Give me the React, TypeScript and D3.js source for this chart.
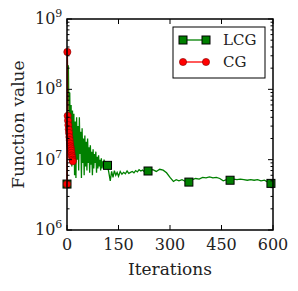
import React from 'react';
import * as d3 from 'd3';

// LCG run: iteration number and function value
const lcgIters = [
  0, 1, 2, 4, 6, 8, 10, 12, 14, 16, 18, 20, 22, 24, 26, 28, 30, 32, 34, 36, 38, 40,
  42, 44, 46, 48, 50, 52, 54, 56, 58, 60, 62, 64, 66, 68, 70, 72, 74, 76, 78, 80,
  82, 84, 86, 88, 90, 92, 94, 96, 98, 100, 102, 104, 106, 108, 110, 112, 114, 116, 118,
  122, 126, 130, 134, 138, 142, 146, 150, 155, 160, 165, 170, 175, 180, 185, 190, 195,
  200, 205, 210, 215, 220, 225, 230, 236, 240, 250, 260, 270, 280, 290, 300, 310, 318,
  326, 335, 345, 355, 365, 375, 385, 395, 405, 415, 425, 435, 445, 455, 465, 475, 485,
  495, 505, 515, 525, 535, 545, 555, 565, 575, 585, 594, 600,
];
const lcgValues = [
  4.5e6, 3.5e8, 1.0e8, 2.2e8, 3.0e7, 9.0e7, 1.2e7, 6.0e7, 8.0e6, 5.0e7, 1.5e7, 4.5e7,
  6.0e6, 3.5e7, 5.5e6, 4.0e7, 1.0e7, 3.0e7, 7.0e6, 4.0e7, 1.2e7, 2.5e7,
  5.5e6, 2.8e7, 9.0e6, 2.0e7, 6.0e6, 2.2e7, 8.0e6, 1.8e7, 7.0e6, 2.0e7, 9.0e6, 1.5e7,
  6.5e6, 1.6e7, 8.5e6, 1.3e7, 6.0e6, 1.4e7, 7.5e6, 1.2e7,
  9.0e6, 1.3e7, 6.5e6, 1.1e7, 7.5e6, 1.15e7, 8.0e6, 1.0e7, 7.0e6, 1.05e7, 7.5e6, 9.5e6,
  8.0e6, 1.0e7, 8.5e6, 9.0e6, 8.0e6, 8.5e6, 8.3e6,
  6.5e6, 5.0e6, 6.8e6, 5.6e6, 7.0e6, 6.0e6, 6.6e6, 5.8e6, 6.8e6, 6.2e6, 6.6e6, 6.3e6,
  6.9e6, 6.4e6, 6.6e6, 6.8e6, 6.5e6,
  7.0e6, 6.7e6, 7.2e6, 6.9e6, 7.1e6, 6.8e6, 7.0e6, 6.9e6, 7.0e6, 7.2e6, 6.8e6, 7.3e6,
  7.1e6, 6.5e6, 5.6e6, 4.9e6, 5.2e6,
  5.0e6, 5.2e6, 4.9e6, 4.8e6, 5.2e6, 5.4e6, 5.3e6, 5.6e6, 5.5e6, 5.7e6, 5.5e6, 5.6e6,
  5.4e6, 5.0e6, 5.2e6, 5.1e6, 5.3e6,
  5.2e6, 5.3e6, 5.2e6, 5.1e6, 5.2e6, 5.1e6, 5.2e6, 5.0e6, 5.1e6, 4.8e6, 4.6e6, 4.7e6,
];
const lcgMarkerIters = [0, 118, 236, 355, 475, 594];

// CG run
const cgIters = [0, 1, 2, 3, 4, 5, 6, 7, 8, 9, 10, 11, 12, 13, 14, 15, 16, 17];
const cgValues = [
  4.5e6, 3.4e8, 4.2e7, 3.6e7, 3.1e7, 2.7e7, 2.4e7, 2.1e7, 1.9e7, 1.7e7, 1.55e7,
  1.45e7, 1.35e7, 1.25e7, 1.15e7, 1.08e7, 1.0e7, 9.5e6,
];

const xTicks = [0, 150, 300, 450, 600];
const yDecades = [6, 7, 8, 9];

const W = 298;
const H = 291;
const FONT = 'DejaVu Serif';

export default function App() {
  const left = 67, right = 273, top = 19, bottom = 230;
  const x = d3.scaleLinear().domain([0, 600]).range([left, right]);
  const y = d3.scaleLog().domain([1e6, 1e9]).range([bottom, top]);

  const lcg = lcgIters.map((it, i) => [it, lcgValues[i]] as [number, number]);
  const cg = cgIters.map((it, i) => [it, cgValues[i]] as [number, number]);
  const line = d3.line<[number, number]>().x((d) => x(d[0])).y((d) => y(d[1]));

  const minor: number[] = [];
  for (let k = 6; k < 9; k++) for (let m = 2; m <= 9; m++) minor.push(m * Math.pow(10, k));

  const lcgMarks = lcgMarkerIters.map((it) => lcg.find((d) => d[0] === it)!);

  return (
    <svg width={W} height={H} style={{ position: 'absolute', left: 0, top: 0, background: '#fff' }}>
      <defs>
        <clipPath id="plotclip">
          <rect x={left} y={top} width={right - left} height={bottom - top} />
        </clipPath>
      </defs>

      {/* data */}
      <path d={line(lcg)!} fill="none" stroke="#008000" strokeWidth={1.3} clipPath="url(#plotclip)" />
      {lcgMarks.map((d, i) => (
        <rect key={i} x={x(d[0]) - 4} y={y(d[1]) - 4} width={8} height={8}
          fill="#008000" stroke="#000" strokeWidth={1} />
      ))}
      <path d={line(cg)!} fill="none" stroke="#ff0000" strokeWidth={1.3} />
      {cg.map((d, i) => (
        <circle key={i} cx={x(d[0])} cy={y(d[1])} r={3.6} fill="#ff0000" stroke="#800000" strokeWidth={0.6} />
      ))}

      {/* ticks */}
      {xTicks.map((t) => (
        <g key={t}>
          <line x1={x(t)} x2={x(t)} y1={bottom} y2={bottom - 5} stroke="#000" strokeWidth={1} />
          <line x1={x(t)} x2={x(t)} y1={top} y2={top + 5} stroke="#000" strokeWidth={1} />
          <text x={x(t)} y={250} textAnchor="middle" fontFamily={FONT} fontSize={16} fill="#222">{t}</text>
        </g>
      ))}
      {yDecades.map((k) => {
        const yy = y(Math.pow(10, k));
        return (
          <g key={k}>
            <line x1={left} x2={left + 5} y1={yy} y2={yy} stroke="#000" strokeWidth={1} />
            <line x1={right} x2={right - 5} y1={yy} y2={yy} stroke="#000" strokeWidth={1} />
            <text x={35} y={yy + 5} fontFamily={FONT} fontSize={16} fill="#222">
              10<tspan fontSize={11} dy={-7}>{k}</tspan>
            </text>
          </g>
        );
      })}
      {minor.map((v) => (
        <g key={v}>
          <line x1={left} x2={left + 2.5} y1={y(v)} y2={y(v)} stroke="#000" strokeWidth={1} />
          <line x1={right} x2={right - 2.5} y1={y(v)} y2={y(v)} stroke="#000" strokeWidth={1} />
        </g>
      ))}

      {/* frame */}
      <rect x={left} y={top} width={right - left} height={bottom - top} fill="none" stroke="#000" strokeWidth={1.5} />

      {/* axis labels */}
      <text x={(left + right) / 2} y={275} textAnchor="middle" fontFamily={FONT} fontSize={17} fill="#222">Iterations</text>
      <text transform={`translate(24,${(top + bottom) / 2}) rotate(-90)`} textAnchor="middle"
        fontFamily={FONT} fontSize={17} fill="#222">Function value</text>

      {/* legend */}
      <g>
        <rect x={173} y={27} width={92} height={51} fill="#fff" stroke="#000" strokeWidth={1} />
        <line x1={183} x2={206} y1={40} y2={40} stroke="#008000" strokeWidth={1.3} />
        <rect x={179} y={36} width={8} height={8} fill="#008000" stroke="#000" strokeWidth={1} />
        <rect x={202} y={36} width={8} height={8} fill="#008000" stroke="#000" strokeWidth={1} />
        <text x={223} y={45} fontFamily={FONT} fontSize={15} fill="#222">LCG</text>
        <line x1={183} x2={206} y1={62} y2={62} stroke="#ff0000" strokeWidth={1.3} />
        <circle cx={183} cy={62} r={3.6} fill="#ff0000" stroke="#800000" strokeWidth={0.6} />
        <circle cx={206} cy={62} r={3.6} fill="#ff0000" stroke="#800000" strokeWidth={0.6} />
        <text x={223} y={67} fontFamily={FONT} fontSize={15} fill="#222">CG</text>
      </g>
    </svg>
  );
}
